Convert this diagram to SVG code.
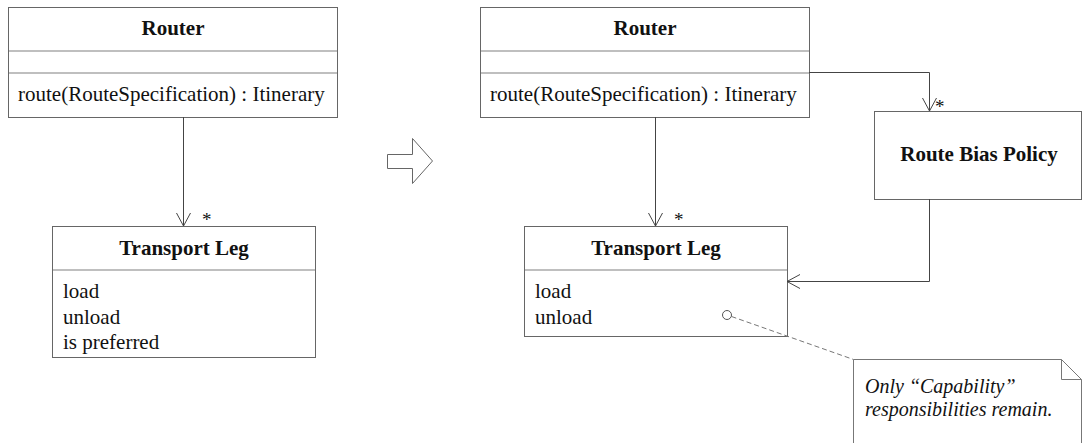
<svg xmlns="http://www.w3.org/2000/svg" width="1082" height="443" viewBox="0 0 1082 443">
<style>
.box{fill:#fff;stroke:#666;stroke-width:1}
.div{stroke:#aaa;stroke-width:1.5}
.t{font-family:"Liberation Serif","Times New Roman",serif;font-size:21px;fill:#111}
.b{font-weight:bold;text-anchor:middle}
.i{font-style:italic;font-size:20px}
.s{font-size:19px}
.ln{fill:none;stroke:#444;stroke-width:1}
.dash{fill:none;stroke:#777;stroke-width:1;stroke-dasharray:5,3}
</style>
<defs>
<marker id="open" viewBox="0 0 16 16" refX="14" refY="8" markerWidth="16" markerHeight="16" markerUnits="userSpaceOnUse" orient="auto">
<path d="M1,1 L14,8 L1,15" fill="none" stroke="#444" stroke-width="1"/>
</marker>
</defs>
<g id="router-left">
<rect class="box" x="8.5" y="7.5" width="329" height="110"/>
<line class="div" x1="9" y1="51" x2="337" y2="51"/>
<line class="div" x1="9" y1="73" x2="337" y2="73"/>
<text class="t b" x="173" y="35">Router</text>
<text class="t" x="18" y="101">route(RouteSpecification) : Itinerary</text>
</g>
<g id="transportleg-left">
<rect class="box" x="52.5" y="226.5" width="263" height="131"/>
<line class="div" x1="53" y1="270" x2="315" y2="270"/>
<text class="t b" x="184" y="255">Transport Leg</text>
<text class="t" x="63" y="298">load</text>
<text class="t" x="63" y="324">unload</text>
<text class="t" x="63" y="349">is preferred</text>
</g>
<g id="transform-arrow">
<path d="M387.5,154.5 H412.5 V138.5 L432.5,161 L412.5,183.5 V168.5 H387.5 Z" fill="#fff" stroke="#666" stroke-width="1"/>
</g>
<g id="router-right">
<rect class="box" x="480.5" y="7.5" width="329" height="110"/>
<line class="div" x1="481" y1="51" x2="809" y2="51"/>
<line class="div" x1="481" y1="73" x2="809" y2="73"/>
<text class="t b" x="645" y="35">Router</text>
<text class="t" x="490" y="101">route(RouteSpecification) : Itinerary</text>
</g>
<g id="transportleg-right">
<rect class="box" x="524.5" y="226.5" width="263" height="110"/>
<line class="div" x1="525" y1="270" x2="787" y2="270"/>
<text class="t b" x="656" y="255">Transport Leg</text>
<text class="t" x="535" y="298">load</text>
<text class="t" x="535" y="324">unload</text>
</g>
<g id="routebiaspolicy">
<rect class="box" x="874.5" y="111.5" width="207" height="88"/>
<text class="t b" x="979" y="161">Route Bias Policy</text>
</g>
<g id="note">
<path d="M853.5,359.5 H1061.5 L1081.5,379.5 V443 M853.5,359.5 V443" fill="#fff" stroke="#777" stroke-width="1"/>
<path d="M1061.5,359.5 V379.5 H1081.5" fill="none" stroke="#777" stroke-width="1"/>
<text class="t i" x="865" y="393">Only “Capability”</text>
<text class="t i" x="865" y="416">responsibilities remain.</text>
</g>
<g id="connectors">
<line class="ln" x1="183.5" y1="117" x2="183.5" y2="226" marker-end="url(#open)"/>
<text class="t s" x="202" y="226">*</text>
<line class="ln" x1="655.5" y1="117" x2="655.5" y2="226" marker-end="url(#open)"/>
<text class="t s" x="674" y="226">*</text>
<path class="ln" d="M809,72.5 H929.5 V111" marker-end="url(#open)"/>
<text class="t s" x="935" y="113">*</text>
<path class="ln" d="M929.5,199 V281.5 H787" marker-end="url(#open)"/>
<line class="dash" x1="731.5" y1="316.5" x2="853.5" y2="359.5"/>
<circle cx="727" cy="315" r="4.5" fill="#fff" stroke="#555" stroke-width="1"/>
</g>
</svg>
